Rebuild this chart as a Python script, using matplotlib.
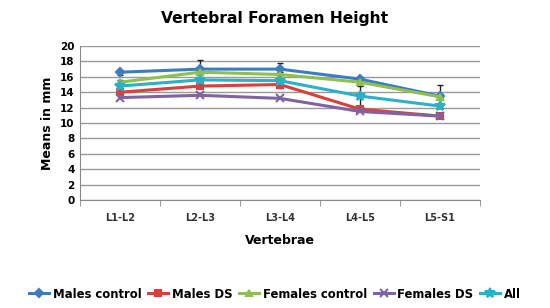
import matplotlib
matplotlib.use('Agg')
import matplotlib.pyplot as plt
import numpy as np

categories = ['L1-L2', 'L2-L3', 'L3-L4', 'L4-L5', 'L5-S1']
males_control = [16.6, 17.0, 17.0, 15.7, 13.5]
males_ds = [14.0, 14.8, 15.0, 11.8, 10.9]
females_control = [15.3, 16.6, 16.3, 15.3, 13.4]
females_ds = [13.3, 13.6, 13.2, 11.5, 10.9]
all_vals = [14.8, 15.6, 15.5, 13.5, 12.2]
males_control_err = [0.3, 1.2, 0.8, 0.3, 0.3]
females_control_err = [0.3, 0.3, 0.3, 0.3, 1.5]
males_ds_err = [0.3, 0.3, 0.5, 0.0, 0.3]
all_err = [0.2, 0.2, 0.2, 1.3, 0.2]

fig = plt.figure(figsize=(5.5, 3.08), dpi=100)
ax = fig.add_axes([0.1455, 0.3506, 0.727, 0.5])
x = np.arange(len(categories))

series = [
    ('Males control', males_control, '#3a7dc0', 'D', 4, males_control_err),
    ('Males DS', males_ds, '#d9403c', 's', 5, males_ds_err),
    ('Females control', females_control, '#8fc04f', '^', 5, females_control_err),
    ('Females DS', females_ds, '#8064a2', 'x', 6, None),
    ('All', all_vals, '#2bb0c8', '*', 7, all_err),
]
for name, vals, col, mk, ms, err in series:
    ax.plot(x, vals, color=col, marker=mk, markersize=ms, lw=2.2,
            markeredgewidth=1.5, label=name, zorder=3)
    if err is not None:
        ax.errorbar(x, vals, yerr=err, fmt='none', ecolor='#222222',
                    elinewidth=1, capsize=2.5, zorder=2)

ax.set_xlim(-0.5, 4.5)
ax.set_ylim(0, 20)
ax.set_yticks(range(0, 21, 2))
ax.set_xticks(x)
ax.set_xticklabels(categories, fontsize=7, fontweight='bold', color='#333333')
for lbl in ax.get_yticklabels():
    lbl.set_fontweight('bold')
ax.set_xticks(np.arange(-0.5, 5, 1), minor=True)
ax.tick_params(axis='x', which='major', length=0, pad=9)
ax.tick_params(axis='x', which='minor', length=4, color='#888888')
ax.tick_params(axis='y', labelsize=7.5, length=0, pad=4)
ax.yaxis.grid(True, color='#999999', lw=1)
ax.set_axisbelow(True)
for s in ['top', 'right']:
    ax.spines[s].set_visible(False)
ax.spines['left'].set_color('#888888')
ax.spines['bottom'].set_color('#888888')
ax.set_ylabel('Means in mm', fontsize=9, fontweight='bold', labelpad=4)
ax.set_xlabel('Vertebrae', fontsize=9, fontweight='bold', labelpad=8)

fig.suptitle('Vertebral Foramen Height', fontsize=11.2, fontweight='bold', x=0.5, y=0.965)
fig.legend(loc='lower center', bbox_to_anchor=(0.5, -0.01), ncol=5, frameon=False,
           prop={'size': 8.4, 'weight': 'bold'}, handlelength=1.7,
           columnspacing=0.6, handletextpad=0.3)

fig.savefig('out.png', dpi=100)
